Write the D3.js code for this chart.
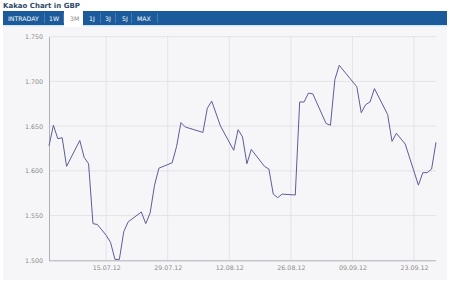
<!DOCTYPE html>
<html>
<head>
<meta charset="utf-8">
<script src="https://cdn.jsdelivr.net/npm/d3@7"></script>
<style>
  body { margin: 0; background: #fff; }
  svg { display: block; font-family: "DejaVu Sans", Verdana, sans-serif; }
</style>
</head>
<body>
<svg width="450" height="300"></svg>
<script>
// data
dates = ["02.07.12","03.07.12","04.07.12","05.07.12","06.07.12","09.07.12","10.07.12","11.07.12","12.07.12","13.07.12",
  "15.07.12","16.07.12","17.07.12","18.07.12","19.07.12","20.07.12","23.07.12","24.07.12","25.07.12","26.07.12",
  "27.07.12","30.07.12","31.07.12","01.08.12","02.08.12","06.08.12","07.08.12","08.08.12","10.08.12","13.08.12",
  "14.08.12","15.08.12","16.08.12","17.08.12","20.08.12","21.08.12","22.08.12","23.08.12","24.08.12","27.08.12",
  "28.08.12","29.08.12","30.08.12","31.08.12","03.09.12","04.09.12","05.09.12","06.09.12","10.09.12","11.09.12",
  "12.09.12","13.09.12","14.09.12","17.09.12","18.09.12","19.09.12","21.09.12","24.09.12","25.09.12","26.09.12",
  "27.09.12","28.09.12"];
prices = [1.628,1.651,1.636,1.637,1.605,1.634,1.615,1.608,1.541,1.540,
  1.528,1.520,1.501,1.501,1.532,1.543,1.554,1.541,1.553,1.584,
  1.603,1.609,1.627,1.654,1.649,1.643,1.670,1.678,1.650,1.623,
  1.646,1.638,1.608,1.624,1.605,1.602,1.574,1.570,1.574,1.573,
  1.677,1.677,1.687,1.686,1.653,1.651,1.702,1.718,1.694,1.665,
  1.674,1.677,1.692,1.663,1.633,1.642,1.630,1.584,1.598,1.598,
  1.602,1.632];
yTicks = [1.500, 1.550, 1.600, 1.650, 1.700, 1.750];
xTicks = ["15.07.12","29.07.12","12.08.12","26.08.12","09.09.12","23.09.12"];
tabs = ["INTRADAY","1W","3M","1J","3J","5J","MAX"];
activeTab = "3M";

parse = d3.timeParse("%d.%m.%y");
data = dates.map((d, i) => ({ date: parse(d), value: prices[i] }));

svg = d3.select("svg");

// title
svg.append("text")
  .attr("x", 3).attr("y", 8)
  .attr("font-size", 7).attr("font-weight", "bold")
  .attr("fill", "#2e4a6a")
  .text("Kakao Chart in GBP");

// tab bar
svg.append("rect").attr("x", 3).attr("y", 11).attr("width", 444).attr("height", 14).attr("fill", "#1b5b9b");
svg.append("rect").attr("x", 3).attr("y", 25).attr("width", 444).attr("height", 1.5).attr("fill", "#cfe6fb");

tabX = [8, 49, 70, 89, 105, 122, 137];
tabEnd = [44, 63, 83, 100, 115, 131, 157];
tabs.forEach((t, i) => {
  if (t === activeTab) {
    svg.append("rect").attr("x", 64).attr("y", 11).attr("width", 19).attr("height", 16).attr("fill", "#ffffff");
  } else {
    svg.append("rect").attr("x", tabEnd[i]).attr("y", 13).attr("width", 0.7).attr("height", 10).attr("fill", "#5b87b8");
  }
  svg.append("text")
    .attr("x", tabX[i]).attr("y", 20.5)
    .attr("font-size", 6.2)
    .attr("fill", t === activeTab ? "#8a8a8a" : "#ffffff")
    .text(t);
});

// chart panel
svg.append("rect").attr("x", 3).attr("y", 27).attr("width", 444).attr("height", 253).attr("fill", "#f6f6f8");

x = d3.scaleTime()
  .domain([parse(dates[0]), parse(dates[dates.length - 1])])
  .range([49, 436]);
y = d3.scaleLinear()
  .domain([1.5, 1.75])
  .range([260.3, 36.7]);

// grid
g = svg.append("g");
g.selectAll(".hg").data(yTicks.slice(1)).enter().append("line")
  .attr("x1", 49).attr("x2", 436)
  .attr("y1", d => y(d)).attr("y2", d => y(d))
  .attr("stroke", "#e3e3e8").attr("stroke-width", 1);
g.selectAll(".vg").data(xTicks).enter().append("line")
  .attr("x1", d => x(parse(d))).attr("x2", d => x(parse(d)))
  .attr("y1", y(1.75)).attr("y2", y(1.5))
  .attr("stroke", "#e3e3e8").attr("stroke-width", 1);

// axes
yAxis = svg.append("g")
  .attr("transform", "translate(49,0)")
  .call(d3.axisLeft(y).tickValues(yTicks).tickFormat(d3.format(".3f")).tickSize(0).tickPadding(6));
xAxis = svg.append("g")
  .attr("transform", `translate(0,${y(1.5)})`)
  .call(d3.axisBottom(x).tickValues(xTicks.map(parse)).tickFormat(d3.timeFormat("%d.%m.%y")).tickSize(0).tickPadding(5));
xAxis.select(".domain").attr("d", "M49,0.5H436");
[xAxis, yAxis].forEach(a => {
  a.select(".domain").attr("stroke", "#b0b0b8");
  a.selectAll("text").attr("fill", "#8a8a8a").attr("font-size", 6.3)
    .attr("font-family", "DejaVu Sans, Verdana, sans-serif");
});

// price line
svg.append("path")
  .datum(data)
  .attr("fill", "none")
  .attr("stroke", "#5c5c9c")
  .attr("stroke-width", 1)
  .attr("d", d3.line().x(d => x(d.date)).y(d => y(d.value)));
</script>
</body>
</html>
